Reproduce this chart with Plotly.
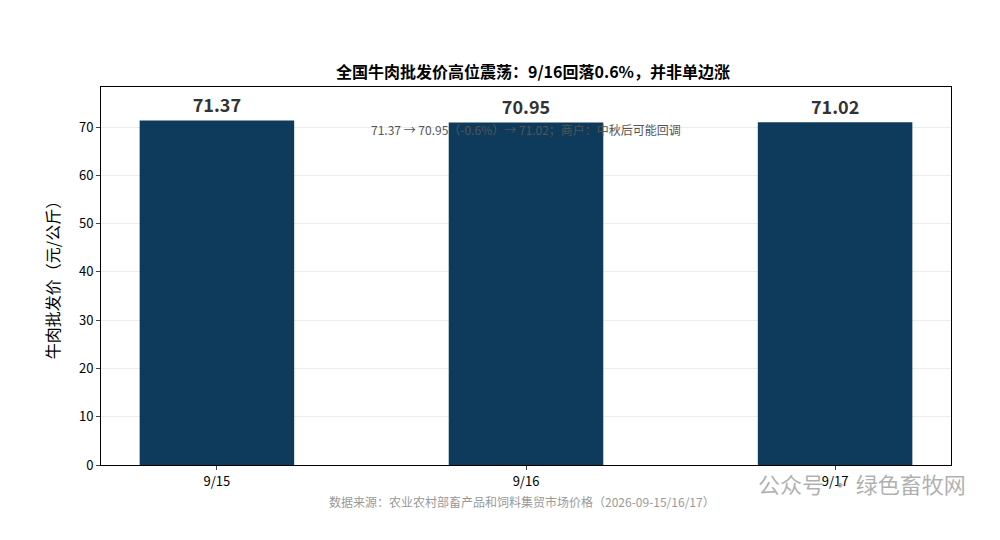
import plotly.graph_objects as go

dates = ['9/15', '9/16', '9/17']
prices = [71.37, 70.95, 71.02]
labels = ['<b>71.37</b>', '<b>70.95</b>', '<b>71.02</b>']

FONT = 'Noto Sans CJK SC'

fig = go.Figure()
fig.add_trace(go.Bar(
    x=[0, 1, 2], y=prices, width=0.5, marker_color='#0e3a5c',
    marker_line_width=0,
    text=labels, textposition='outside', cliponaxis=False,
    textfont=dict(size=18, color='#333333', family=FONT),
))

fig.update_layout(
    width=1000, height=540,
    margin=dict(l=93, r=57, t=79, b=83),
    plot_bgcolor='white', paper_bgcolor='white',
    font=dict(family=FONT, size=13, color='#000'),
    showlegend=False,
    title=dict(text='<b>全国牛肉批发价高位震荡：9/16回落0.6%，并非单边涨</b>',
               x=0.525, xanchor='center', y=0.88, yanchor='middle',
               font=dict(size=16, color='#000')),
)
fig.update_xaxes(
    tickvals=[0, 1, 2], ticktext=dates, range=[-0.375, 2.375],
    showline=True, linecolor='#000', mirror=True, ticks='outside', ticklen=4,
    showgrid=False,
)
fig.update_yaxes(
    range=[0, 78.3], dtick=10, title_text='牛肉批发价（元/公斤）',
    showline=True, linecolor='#000', mirror=True, ticks='outside', ticklen=4,
    showgrid=True, gridcolor='#ececec', zeroline=False,
)
fig.add_annotation(
    text='71.37 → 70.95（-0.6%）→ 71.02；商户：中秋后可能回调',
    xref='paper', yref='paper', x=0.5, y=0.915, showarrow=False,
    font=dict(size=12, color='#555555'),
)
fig.add_annotation(
    text='数据来源：农业农村部畜产品和饲料集贸市场价格（2026-09-15/16/17）',
    xref='paper', yref='paper', x=0.495, y=-0.125, showarrow=False,
    font=dict(size=12, color='#999999'),
)
fig.add_annotation(
    text='公众号 · 绿色畜牧网',
    xref='paper', yref='paper', x=1.02, y=-0.095, xanchor='right', showarrow=False,
    font=dict(size=22, color='rgba(150,150,150,0.75)'),
)

fig.write_html('out.html')
